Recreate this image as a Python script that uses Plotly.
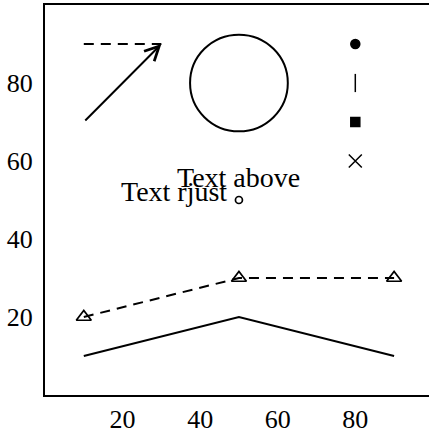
import plotly.graph_objects as go

# Data
line_x = [10, 50, 90]
solid_y = [10, 20, 10]
dashed_y = [20, 30, 30]

seg_x = [10, 30]
seg_y = [90, 90]

arrow_start = [10, 70]
arrow_end = [30, 90]

circle_center = [50, 80]
circle_radius = [12.6, 12.4]

sym_x = [80, 80, 80, 80]
sym_y = [90, 80, 70, 60]
sym_kind = ["circle", "line-ns", "square", "x-thin"]

text_point = [50, 50]

FONT = "Liberation Serif, Times New Roman, serif"

fig = go.Figure()

# Solid line
fig.add_trace(go.Scatter(
    x=line_x, y=solid_y, mode="lines",
    line=dict(color="black", width=2),
))

# Dashed line with open triangles
fig.add_trace(go.Scatter(
    x=line_x, y=dashed_y, mode="lines+markers",
    line=dict(color="black", width=2, dash="10px,7px"),
    marker=dict(symbol="triangle-up-open", size=13, color="black",
                line=dict(width=1.7, color="black")),
))

# Short dashed segment at top left
fig.add_trace(go.Scatter(
    x=seg_x, y=seg_y, mode="lines",
    line=dict(color="black", width=2, dash="10px,7px"),
))

# Symbol column
for xx, yy, kk in zip(sym_x, sym_y, sym_kind):
    size = 9 if kk in ("circle", "square") else 13
    fig.add_trace(go.Scatter(
        x=[xx], y=[yy], mode="markers",
        marker=dict(symbol=kk, size=size, color="black",
                    line=dict(width=1.5, color="black")),
    ))

# Small open point under the text
fig.add_trace(go.Scatter(
    x=[text_point[0]], y=[text_point[1]], mode="markers",
    marker=dict(symbol="circle-open", size=7, color="black",
                line=dict(width=1.7, color="black")),
))

# Circle
fig.add_shape(
    type="circle", xref="x", yref="y",
    x0=circle_center[0] - circle_radius[0], x1=circle_center[0] + circle_radius[0],
    y0=circle_center[1] - circle_radius[1], y1=circle_center[1] + circle_radius[1],
    line=dict(color="black", width=2),
)

# Arrow
fig.add_annotation(
    x=arrow_end[0], y=arrow_end[1], ax=arrow_start[0], ay=arrow_start[1],
    xref="x", yref="y", axref="x", ayref="y",
    text="", showarrow=True, arrowhead=5, arrowsize=1.4,
    arrowwidth=2, arrowcolor="black",
)

# Texts
fig.add_annotation(
    x=text_point[0], y=text_point[1], xref="x", yref="y",
    text="Text above", showarrow=False,
    xanchor="center", yanchor="bottom", yshift=5,
    font=dict(family=FONT, size=28, color="black"),
)
fig.add_annotation(
    x=text_point[0], y=text_point[1], xref="x", yref="y",
    text="Text rjust", showarrow=False,
    xanchor="right", yanchor="middle", xshift=-10, yshift=9,
    font=dict(family=FONT, size=28, color="black"),
)

fig.update_layout(
    width=429, height=437,
    margin=dict(l=45, r=0, t=5, b=42),
    paper_bgcolor="white", plot_bgcolor="white",
    showlegend=False,
    font=dict(family=FONT, size=26, color="black"),
)
fig.update_xaxes(
    range=[0, 99], tickvals=[20, 40, 60, 80], showgrid=False, zeroline=False,
    showline=True, linecolor="black", linewidth=2, mirror=True,
    ticks="", ticklabelstandoff=0,
)
fig.update_yaxes(
    range=[0, 100], tickvals=[20, 40, 60, 80], showgrid=False, zeroline=False,
    showline=True, linecolor="black", linewidth=2, mirror=False,
    ticks="", ticklabelstandoff=5,
)

# the page body has a default 8px margin; drop it so the figure sits at 0,0
fig.write_html(
    "out.html",
    config={"displayModeBar": False},
    post_script="document.body.style.margin='0';",
)
